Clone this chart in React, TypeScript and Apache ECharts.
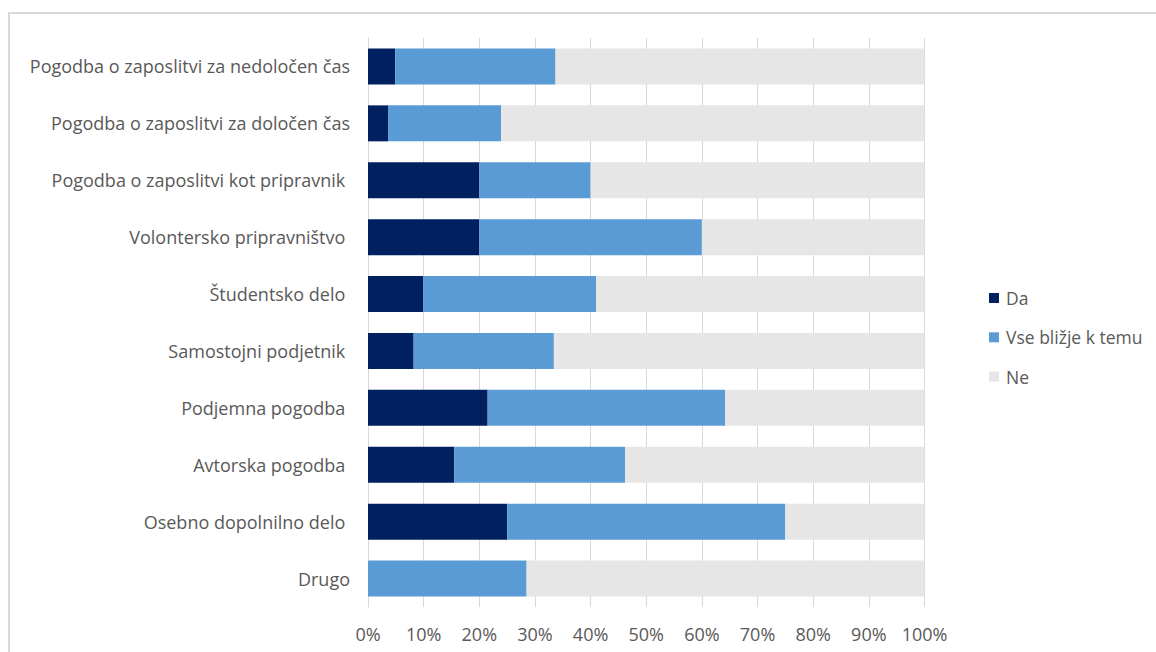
import React, { useEffect, useRef } from "react";
import * as echarts from "echarts";

const categories = [
  "Pogodba o zaposlitvi za nedoločen čas",
  "Pogodba o zaposlitvi za določen čas",
  "Pogodba o zaposlitvi kot pripravnik ",
  "Volontersko pripravništvo ",
  "Študentsko delo ",
  "Samostojni podjetnik ",
  "Podjemna pogodba ",
  "Avtorska pogodba ",
  "Osebno dopolnilno delo ",
  "Drugo",
];

const da = [4.9, 3.6, 20, 20, 9.9, 8.2, 21.5, 15.5, 25, 0];
const vseBlizje = [28.8, 20.3, 20, 40, 31.1, 25.2, 42.7, 30.7, 50, 28.5];
const ne = [66.3, 76.1, 60, 40, 59, 66.6, 35.8, 53.8, 25, 71.5];

const seriesNames = ["Da", "Vse bližje k temu", "Ne"];
const seriesColors = ["#002060", "#5B9BD5", "#E7E6E6"];
const xTicks = [0, 10, 20, 30, 40, 50, 60, 70, 80, 90, 100];

const FONT = "'Open Sans', sans-serif";
const TEXT = "#595959";

export default function App() {
  const ref = useRef<HTMLDivElement>(null);
  useEffect(() => {
    if (!ref.current) return;
    const chart = echarts.init(ref.current, undefined, { renderer: "svg" });
    const values = [da, vseBlizje, ne];
    chart.setOption({
      animation: false,
      textStyle: { fontFamily: FONT },
      graphic: [
        {
          type: "rect",
          shape: { x: 9, y: 13, width: 1200, height: 700 },
          style: { fill: "none", stroke: "#d9d9d9", lineWidth: 2 },
          silent: true,
        },
      ],
      grid: { left: 368, right: 231.5, top: 38, bottom: 45, containLabel: false },
      legend: {
        orient: "vertical",
        left: 984,
        top: 284,
        icon: "rect",
        itemWidth: 10,
        itemHeight: 10,
        itemGap: 21.3,
        data: seriesNames,
        textStyle: { color: TEXT, fontSize: 17.5, lineHeight: 18, fontFamily: FONT, padding: [0, 0, 0, 2] },
      },
      xAxis: {
        type: "value",
        min: xTicks[0],
        max: xTicks[xTicks.length - 1],
        interval: 10,
        axisLine: { show: false },
        axisTick: { show: false },
        splitLine: { show: true, lineStyle: { color: "#d9d9d9", width: 1 } },
        axisLabel: {
          formatter: "{value}%",
          color: TEXT,
          fontSize: 18,
          fontFamily: FONT,
          margin: 18,
        },
      },
      yAxis: {
        type: "category",
        inverse: true,
        data: categories,
        axisLine: { show: true, lineStyle: { color: "#d9d9d9", width: 1 } },
        axisTick: { show: false },
        axisLabel: { color: TEXT, fontSize: 18, fontFamily: FONT, margin: 18 },
      },
      series: seriesNames.map((name, i) => ({
        name,
        type: "bar",
        stack: "total",
        barWidth: 36,
        data: values[i],
        itemStyle: { color: seriesColors[i] },
      })),
    });
    return () => chart.dispose();
  }, []);
  return (
    <div
      ref={ref}
      style={{ position: "fixed", left: 0, top: 0, width: 1156, height: 652, background: "#fff" }}
    />
  );
}
